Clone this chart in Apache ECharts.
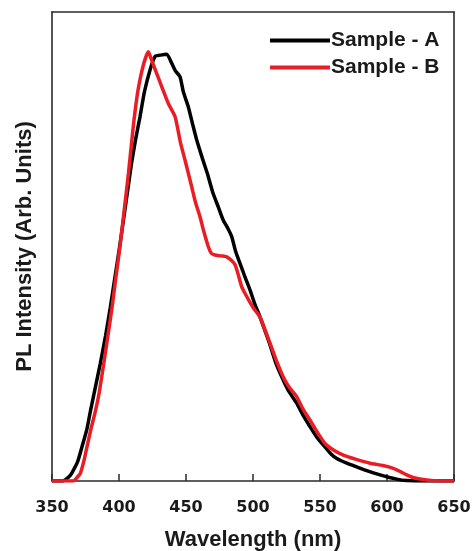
<!DOCTYPE html>
<html><head><meta charset="utf-8">
<script src="https://cdn.jsdelivr.net/npm/echarts@6/dist/echarts.min.js"></script>
<style>html,body{margin:0;padding:0;background:#fff}#c{width:472px;height:551px}</style>
</head><body><div id="c"></div>
<script>
const seriesNames = ["Sample - A", "Sample - B"];
const xTicks = [350, 400, 450, 500, 550, 600, 650];
const sampleA = [[350,0],[358,0],[360,0.003],[363,0.01],[365,0.018],[369,0.04],[372.4,0.073],[376,0.11],[378.6,0.148],[382,0.195],[386,0.25],[390,0.31],[393.5,0.37],[397,0.435],[400.5,0.5],[404,0.57],[407,0.63],[409.5,0.68],[412.5,0.73],[415.7,0.777],[419,0.83],[423.1,0.876],[426.9,0.905],[431,0.908],[435.6,0.91],[439.3,0.891],[442,0.875],[445.5,0.862],[448,0.83],[451.7,0.798],[455,0.76],[458,0.727],[462,0.69],[466,0.655],[470,0.615],[474,0.585],[477.8,0.556],[481,0.54],[484.1,0.521],[487,0.49],[490.3,0.464],[494,0.435],[497.8,0.407],[501,0.38],[505.2,0.35],[509,0.32],[512.7,0.29],[517,0.252],[522.6,0.215],[527,0.19],[532.6,0.166],[537,0.142],[542.5,0.116],[548,0.092],[553.7,0.073],[558,0.058],[562.5,0.048],[570,0.038],[577.4,0.03],[586,0.021],[594.8,0.013],[601,0.008],[607.2,0.004],[614,0.001],[622,0],[650,0]];
const sampleB = [[350,0],[366,0],[368,0.005],[371.1,0.016],[374,0.045],[376.1,0.073],[379,0.11],[382.3,0.148],[385,0.185],[388.6,0.25],[392,0.315],[394.8,0.37],[397.5,0.43],[400.5,0.495],[404,0.58],[407,0.655],[409,0.71],[411,0.765],[414,0.83],[418,0.885],[421.9,0.915],[424,0.9],[428.1,0.869],[432,0.84],[436.8,0.805],[441.8,0.777],[446,0.72],[449.3,0.684],[454.2,0.628],[457,0.595],[460.4,0.564],[463,0.535],[466.6,0.5],[469,0.485],[471.6,0.482],[476,0.48],[480.4,0.478],[484,0.47],[486.6,0.461],[489,0.44],[491.6,0.414],[495,0.395],[498,0.38],[501,0.366],[505.2,0.35],[509,0.322],[512.7,0.294],[517,0.26],[522.6,0.222],[527,0.2],[532.6,0.18],[537,0.155],[542.5,0.13],[548,0.104],[553.7,0.08],[560,0.066],[567.4,0.055],[577,0.046],[587.3,0.038],[597,0.033],[604.7,0.027],[610,0.02],[614.7,0.013],[620,0.007],[629.6,0.002],[640,0],[650,0]];

const chart = echarts.init(document.getElementById('c'), null, {renderer:'canvas'});
const axisCol = '#2a2a2a';
chart.setOption({
  animation:false,
  backgroundColor:'#fff',
  grid:{left:52,right:18,top:12,bottom:70,show:false,containLabel:false,outerBoundsMode:'none'},
  legend:{
    orient:'vertical', left:265, top:25, itemWidth:60, itemHeight:4, itemGap:6,
    icon:'rect',
    data:seriesNames,
    textStyle:{fontFamily:'Liberation Sans, Arial, sans-serif',fontWeight:'bold',fontSize:21,color:'#1a1a1a',padding:[0,0,0,-4]}
  },
  xAxis:[{
    type:'value', min:xTicks[0], max:xTicks[xTicks.length-1], interval:50,
    name:'Wavelength (nm)', nameLocation:'middle', nameGap:48,
    nameTextStyle:{fontFamily:'Liberation Sans, Arial, sans-serif',fontWeight:'bold',fontSize:22,color:'#1a1a1a'},
    axisLine:{show:true,onZero:false,lineStyle:{color:axisCol,width:1.6}},
    axisTick:{show:true,inside:true,length:7,lineStyle:{color:axisCol,width:1.5}},
    axisLabel:{show:true,margin:19,fontFamily:'DejaVu Sans, sans-serif',fontWeight:'bold',fontSize:16,color:'#1a1a1a',
      formatter:v=>xTicks.includes(v)?String(v):''},
    splitLine:{show:false}
  },{
    type:'value', position:'top', min:xTicks[0], max:xTicks[xTicks.length-1],
    axisLine:{show:true,onZero:false,lineStyle:{color:axisCol,width:1.6}},
    axisTick:{show:false},axisLabel:{show:false},splitLine:{show:false}
  }],
  yAxis:[{
    type:'value', min:0, max:1,
    name:'PL Intensity (Arb. Units)', nameLocation:'middle', nameGap:16,
    nameTextStyle:{fontFamily:'Liberation Sans, Arial, sans-serif',fontWeight:'bold',fontSize:22,color:'#1a1a1a'},
    axisLine:{show:true,onZero:false,lineStyle:{color:axisCol,width:1.6}},
    axisTick:{show:false},axisLabel:{show:false},splitLine:{show:false}
  },{
    type:'value', position:'right', min:0, max:1,
    axisLine:{show:true,onZero:false,lineStyle:{color:axisCol,width:1.6}},
    axisTick:{show:false},axisLabel:{show:false},splitLine:{show:false}
  }],
  series:[
    {name:seriesNames[0],type:'line',data:sampleA,showSymbol:false,smooth:0.2,
      lineStyle:{color:'#000000',width:3.5},itemStyle:{color:'#000000'}},
    {name:seriesNames[1],type:'line',data:sampleB,showSymbol:false,smooth:0.2,
      lineStyle:{color:'#ec1c24',width:3.5},itemStyle:{color:'#ec1c24'}}
  ]
});
</script></body></html>
